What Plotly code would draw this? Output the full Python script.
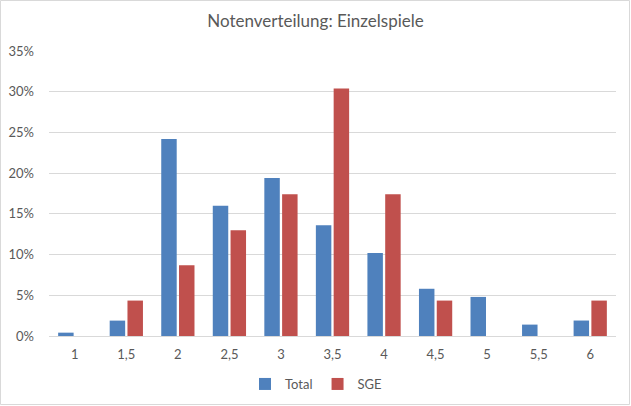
import plotly.graph_objects as go

categories = ["1", "1,5", "2", "2,5", "3", "3,5", "4", "4,5", "5", "5,5", "6"]
total = [0.0041, 0.0189, 0.242, 0.160, 0.194, 0.136, 0.102, 0.058, 0.048, 0.014, 0.019]
sge = [0.0, 0.0435, 0.087, 0.130, 0.174, 0.304, 0.174, 0.0435, 0.0, 0.0, 0.0435]
y_ticks = [0, 0.05, 0.10, 0.15, 0.20, 0.25, 0.30, 0.35]

FONT = "Lato"
GREY = "#595959"

fig = go.Figure()
fig.add_trace(go.Bar(name="Total", x=categories, y=total, marker_color="#4F81BD",
                     marker_line_width=0))
fig.add_trace(go.Bar(name="SGE", x=categories, y=sge, marker_color="#C0504D",
                     marker_line_width=0))

L, R, T, B = 49, 15, 51, 70
W, H = 631, 406
pw, ph = W - L - R, H - T - B

def px2x(px):
    return (px - L) / pw

def py2y(py):
    return (H - B - py) / ph

fig.add_shape(type="rect", xref="paper", yref="paper",
              x0=px2x(0.5), x1=px2x(629.5), y0=py2y(404.5), y1=py2y(0.5),
              line=dict(color="#D9D9D9", width=1), fillcolor="rgba(0,0,0,0)", layer="below")

fig.update_layout(
    width=W, height=H,
    margin=dict(l=L, r=R, t=T, b=B, autoexpand=False),
    paper_bgcolor="white", plot_bgcolor="white",
    barmode="group", bargap=0.31, bargroupgap=0.13,
    title=dict(text="Notenverteilung: Einzelspiele", x=0.5, xref="container", xanchor="center",
               y=1 - 21 / H, yref="container", yanchor="middle",
               font=dict(family=FONT, size=17, color=GREY)),
    font=dict(family=FONT, size=13, color=GREY),
    legend=dict(orientation="h", x=px2x(316), xanchor="center", y=py2y(384), yanchor="middle",
                font=dict(family=FONT, size=13, color=GREY), itemwidth=30,
                traceorder="normal"),
    xaxis=dict(type="category", showgrid=False, showline=True, linecolor="#D9D9D9", linewidth=1,
               ticks="", automargin=False, ticklabelstandoff=6,
               tickfont=dict(family=FONT, size=13, color=GREY)),
    yaxis=dict(range=[0, 0.35], tickvals=y_ticks, tickformat=".0%", showgrid=True,
               gridcolor="#D9D9D9", gridwidth=1, zeroline=False, showline=False, ticks="",
               automargin=False, ticklabelstandoff=14,
               tickfont=dict(family=FONT, size=13, color=GREY)),
)

fig.write_html("out.html", config={"displayModeBar": False},
               post_script="document.body.style.margin='0';document.body.style.overflow='hidden';")
